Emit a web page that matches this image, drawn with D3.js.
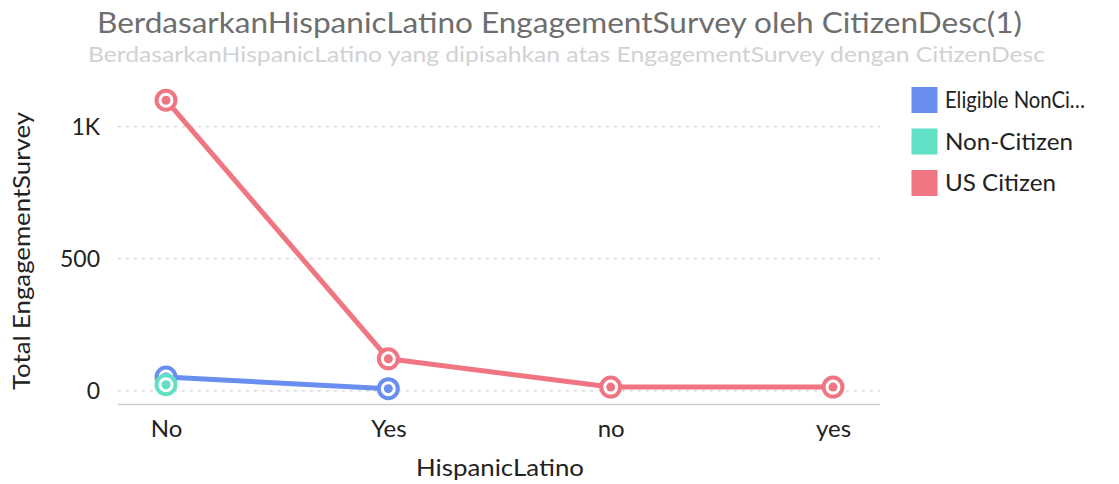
<!DOCTYPE html>
<html><head><meta charset="utf-8">
<script src="https://cdn.jsdelivr.net/npm/d3@7/dist/d3.min.js"></script>
<style>body{margin:0;background:#fff;font-family:Lato,sans-serif;}</style>
</head><body><svg id="c" width="1119" height="484"></svg>
<script>
const categories = ["No","Yes","no","yes"];
const seriesNames = ["Eligible NonCitizen","Non-Citizen","US Citizen"];
const legendLabels = ["Eligible NonCi\u2026","Non-Citizen","US Citizen"];
const colors = ["#6a8ef0","#62e0c5","#f07583"];
const eligibleValues = [52, 8, null, null];
const nonCitizenValues = [23, null, null, null];
const usCitizenValues = [1100, 121, 14, 14];
const yTicks = [0, 500, 1000];
const yTickLabels = ["0","500","1K"];
const seriesValues = [eligibleValues, nonCitizenValues, usCitizenValues];

const svg = d3.select("#c");
const x = d3.scalePoint().domain(categories).range([166, 833]);
const y = d3.scaleLinear().domain([-50, 1150]).range([404, 87]);

svg.append("text").attr("x",97).attr("y",33)
  .attr("font-size",28).attr("fill","#6e6e6e").attr("textLength",925).attr("lengthAdjust","spacingAndGlyphs")
  .text("BerdasarkanHispanicLatino EngagementSurvey oleh CitizenDesc(1)");
svg.append("text").attr("x",88).attr("y",62)
  .attr("font-size",21.5).attr("fill","#d2d2d2").attr("textLength",957).attr("lengthAdjust","spacingAndGlyphs")
  .text("BerdasarkanHispanicLatino yang dipisahkan atas EngagementSurvey dengan CitizenDesc");

// grid
svg.append("g").selectAll("line").data(yTicks).join("line")
  .attr("x1",118).attr("x2",880).attr("y1",d=>y(d)).attr("y2",d=>y(d))
  .attr("stroke","#d0d0d0").attr("stroke-dasharray","3,5").attr("stroke-width",1.2);
// y labels
const ya = svg.append("g").attr("transform","translate(100,0)")
  .call(d3.axisLeft(y).tickValues(yTicks).tickFormat((d,i)=>yTickLabels[i]).tickSize(0).tickPadding(0));
ya.select(".domain").remove();
ya.selectAll("text").attr("font-family","Lato").attr("font-size",23).attr("fill","#222");
// x axis
const xa = svg.append("g").attr("transform","translate(0,404)")
  .call(d3.axisBottom(x).tickSize(0).tickPadding(16));
xa.select(".domain").remove();
svg.append("line").attr("x1",118).attr("x2",880).attr("y1",404.5).attr("y2",404.5).attr("stroke","#cfcfcf").attr("stroke-width",1.5);
xa.selectAll("text").attr("font-family","Lato").attr("font-size",24).attr("fill","#222");

svg.append("text").attr("x",416).attr("y",476).attr("font-size",23).attr("fill","#222")
  .attr("textLength",168).attr("lengthAdjust","spacingAndGlyphs").text("HispanicLatino");
svg.append("text").attr("transform","translate(30,390) rotate(-90)").attr("font-size",23).attr("fill","#222")
  .attr("textLength",278).attr("lengthAdjust","spacingAndGlyphs").text("Total EngagementSurvey");

const line = d3.line().defined(d=>d.v!=null).x(d=>x(d.c)).y(d=>y(d.v));
seriesValues.forEach((vals,i)=>{
  const pts = categories.map((c,j)=>({c, v: vals[j]}));
  svg.append("path").datum(pts).attr("d",line).attr("fill","none").attr("stroke",colors[i]).attr("stroke-width",5).attr("stroke-linejoin","round");
});
seriesValues.forEach((vals,i)=>{
  const pts = categories.map((c,j)=>({c, v: vals[j]})).filter(d=>d.v!=null);
  const g = svg.append("g");
  g.selectAll("circle.o").data(pts).join("circle").attr("class","o").attr("cx",d=>x(d.c)).attr("cy",d=>y(d.v)).attr("r",9.5)
    .attr("fill","#fff").attr("stroke",colors[i]).attr("stroke-width",4);
  g.selectAll("circle.i").data(pts).join("circle").attr("class","i").attr("cx",d=>x(d.c)).attr("cy",d=>y(d.v)).attr("r",4.5)
    .attr("fill",colors[i]);
});

// legend
const lg = svg.append("g");
const legendWidths = [140, 128, 111];
legendLabels.forEach((t,i)=>{
  const yy = 87 + i*41.5;
  lg.append("rect").attr("x",911.5).attr("y",yy).attr("width",26).attr("height",26).attr("fill",colors[i]);
  lg.append("text").attr("x",945).attr("y",yy+21).attr("font-size",22.5).attr("fill","#222")
    .attr("textLength",legendWidths[i]).attr("lengthAdjust","spacingAndGlyphs").text(t);
});
</script></body></html>
